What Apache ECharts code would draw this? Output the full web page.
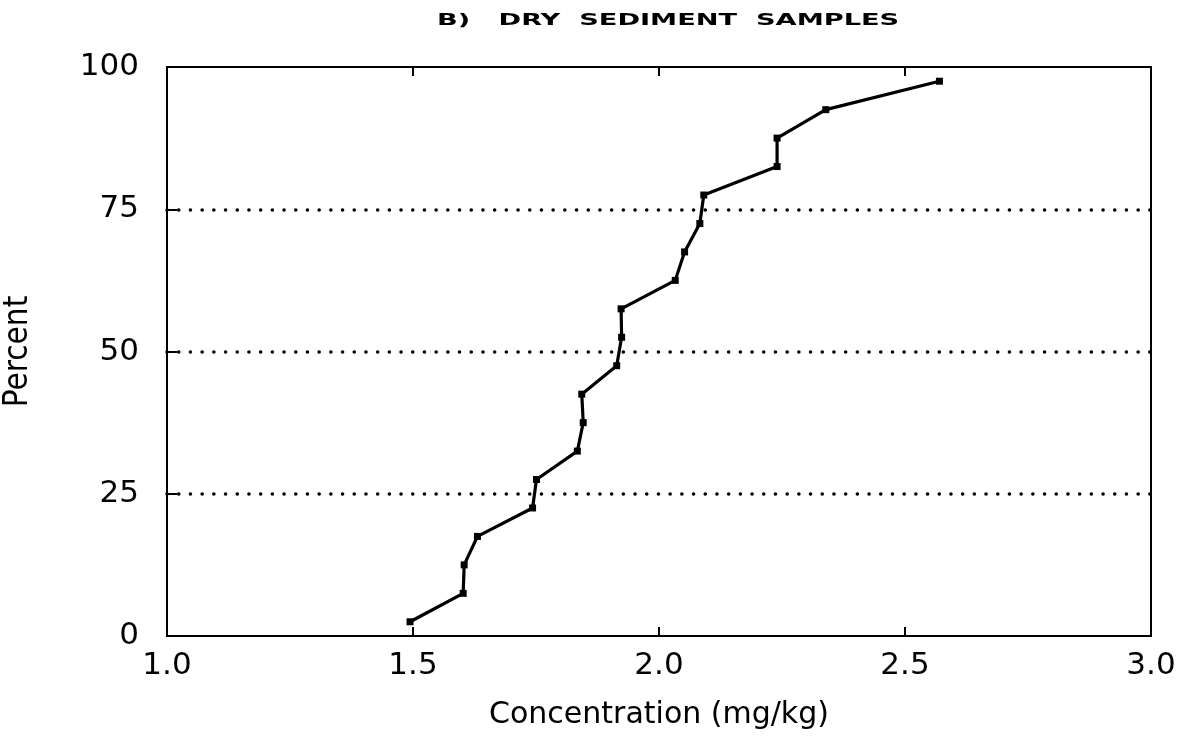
<!DOCTYPE html>
<html>
<head>
<meta charset="utf-8">
<script src="https://cdn.jsdelivr.net/npm/echarts@6/dist/echarts.min.js"></script>
<style>html,body{margin:0;padding:0;background:#fff}#c{width:1182px;height:749px}</style>
</head>
<body>
<div id="c"></div>
<script>
const concentration = [1.494, 1.602, 1.604, 1.631, 1.743, 1.751, 1.834, 1.846, 1.843, 1.914, 1.924, 1.923, 2.033, 2.052, 2.083, 2.091, 2.240, 2.240, 2.339, 2.570];
const percent = [2.5, 7.5, 12.5, 17.5, 22.5, 27.5, 32.5, 37.5, 42.5, 47.5, 52.5, 57.5, 62.5, 67.5, 72.5, 77.5, 82.5, 87.5, 92.5, 97.5];
const xTicks = [1.0, 1.5, 2.0, 2.5, 3.0];
const yTicks = [0, 25, 50, 75, 100];
const titleText = 'B)   DRY  SEDIMENT  SAMPLES';

const chart = echarts.init(document.getElementById('c'));
const F = 'DejaVu Sans';
chart.setOption({
  animation: false,
  graphic: [{
    type: 'text', left: 437, top: 13, scaleX: 1.7,
    style: {text: titleText, font: 'bold 16px "DejaVu Sans"', fill: '#000'}
  }],
  grid: {left: 167, right: 31, top: 67, bottom: 113, outerBoundsMode: 'none', containLabel: false,
    show: true, borderColor: '#000', borderWidth: 2, backgroundColor: 'transparent'},
  xAxis: [{
    type: 'value', min: xTicks[0], max: xTicks[xTicks.length - 1], interval: 0.5,
    name: 'Concentration (mg/kg)', nameLocation: 'middle', nameGap: 64,
    nameTextStyle: {fontFamily: F, fontSize: 30, color: '#000'},
    axisLine: {show: true, lineStyle: {color: '#000', width: 2}},
    axisTick: {show: true, inside: true, length: 9, lineStyle: {color: '#000', width: 2}},
    axisLabel: {fontFamily: F, fontSize: 31, color: '#000', margin: 14, formatter: v => v.toFixed(1)},
    splitLine: {show: false}
  }, {
    type: 'value', position: 'top', min: xTicks[0], max: xTicks[xTicks.length - 1], interval: 0.5,
    axisLine: {show: true, lineStyle: {color: '#000', width: 2}},
    axisTick: {show: true, inside: true, length: 9, lineStyle: {color: '#000', width: 2}},
    axisLabel: {show: false}, splitLine: {show: false}
  }],
  yAxis: {
    type: 'value', min: yTicks[0], max: yTicks[yTicks.length - 1], interval: 25,
    name: 'Percent', nameLocation: 'middle', nameGap: 132, nameRotate: 90,
    nameTextStyle: {fontFamily: 'Liberation Sans Narrow, DejaVu Sans Condensed, Liberation Sans', fontSize: 33, color: '#000'},
    axisLine: {show: true, lineStyle: {color: '#000', width: 2}},
    axisTick: {show: true, inside: true, length: 10, lineStyle: {color: '#000', width: 2}},
    axisLabel: {fontFamily: F, fontSize: 31, color: '#000', margin: 28},
    splitLine: {show: true, showMinLine: false, showMaxLine: false,
      lineStyle: {color: '#000', width: 3.5, type: [0.1, 11.6], cap: 'round'}}
  },
  series: [{
    type: 'line',
    data: concentration.map((c, i) => [c, percent[i]]),
    symbol: 'rect', symbolSize: 7, showSymbol: true,
    itemStyle: {color: '#000'},
    lineStyle: {color: '#000', width: 3.2},
    z: 5
  }]
});
</script>
</body>
</html>
